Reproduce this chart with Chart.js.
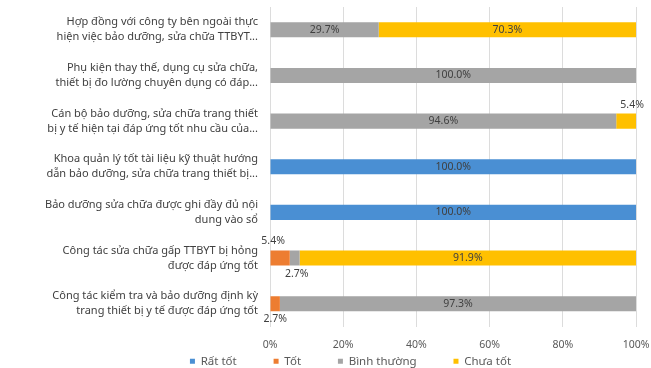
<!DOCTYPE html>
<html><head><meta charset="utf-8">
<script src="https://cdn.jsdelivr.net/npm/chart.js@4/dist/chart.umd.min.js"></script>
<style>html,body{margin:0;padding:0;background:#fff}#w{width:651px;height:368px}</style>
</head><body><div id="w"><canvas id="c"></canvas></div>
<script>
const categories = [
  ["Hợp đồng với công ty bên ngoài thực", "hiện việc bảo dưỡng, sửa chữa TTBYT..."],
  ["Phụ kiện thay thế, dụng cụ sửa chữa,", "thiết bị đo lường chuyên dụng có đáp..."],
  ["Cán bộ bảo dưỡng, sửa chữa trang thiết", "bị y tế hiện tại đáp ứng tốt nhu cầu của..."],
  ["Khoa quản lý tốt tài liệu kỹ thuật hướng", "dẫn bảo dưỡng, sửa chữa trang thiết bị..."],
  ["Bảo dưỡng sửa chữa được ghi đầy đủ nội", "dung vào sổ"],
  ["Công tác sửa chữa gấp TTBYT bị hỏng", "được đáp ứng tốt"],
  ["Công tác kiểm tra và bảo dưỡng định kỳ", "trang thiết bị y tế được đáp ứng tốt"]
];
const seriesNames = ["Rất tốt", "Tốt", "Bình thường", "Chưa tốt"];
const ratTot     = [0, 0, 0, 100, 100, 0, 0];
const tot        = [0, 0, 0, 0, 0, 5.4, 2.7];
const binhThuong = [29.7, 100, 94.6, 0, 0, 2.7, 97.3];
const chuaTot    = [70.3, 0, 5.4, 0, 0, 91.9, 0];
const xTicks = [0, 20, 40, 60, 80, 100];

const colors = ["#4A8FD3", "#ED7D31", "#A5A5A5", "#FFC000"];
const FONT = '"Noto Sans", sans-serif';
// small labels drawn outside the bar: [side, dx]
const outside = {"1-5": ["above", -7], "2-5": ["below", 2], "1-6": ["below", 0], "3-2": ["above", 6]};

const labelPlugin = {
  id: 'lbl',
  afterLayout(chart) {
    // let the long category labels extend to the canvas edge (no clipping)
    const y = chart.scales.y;
    y.left = 0; y.width = y.right;
  },
  afterDatasetsDraw(chart) {
    const ctx = chart.ctx;
    ctx.save();
    ctx.font = '10.5px ' + FONT;
    ctx.fillStyle = '#404040';
    ctx.textAlign = 'center';
    ctx.textBaseline = 'middle';
    chart.data.datasets.forEach((ds, di) => {
      const meta = chart.getDatasetMeta(di);
      meta.data.forEach((bar, i) => {
        const v = ds.data[i];
        if (!v) return;
        const txt = v.toFixed(1) + '%';
        const x0 = Math.min(bar.x, bar.base), x1 = Math.max(bar.x, bar.base);
        let cx = (x0 + x1) / 2, cy = bar.y;
        const pos = outside[di + '-' + i];
        if (pos) {
          cx += pos[1];
          cy = pos[0] === 'above' ? bar.y - bar.height / 2 - 9 : bar.y + bar.height / 2 + 8;
        }
        ctx.fillText(txt, cx, cy);
      });
    });
    ctx.restore();
  }
};

const PAD = '           ';

new Chart(document.getElementById('c'), {
  type: 'bar',
  data: {
    labels: categories,
    datasets: [ratTot, tot, binhThuong, chuaTot].map((d, k) => ({
      label: seriesNames[k], data: d, backgroundColor: colors[k],
      categoryPercentage: 1, barPercentage: 0.33
    }))
  },
  options: {
    indexAxis: 'y',
    responsive: true, maintainAspectRatio: false, animation: false,
    layout: {padding: {top: 7, right: 15, bottom: -9, left: 65}},
    plugins: {
      legend: {
        position: 'bottom',
        labels: {
          boxWidth: 5, boxHeight: 5, padding: 4, color: '#595959',
          font: {family: FONT, size: 11.5},
          generateLabels: (chart) => Chart.defaults.plugins.legend.labels.generateLabels(chart)
            .map((l, k, a) => Object.assign(l, {text: l.text + (k < a.length - 1 ? PAD : '')}))
        }
      },
      tooltip: {enabled: false}
    },
    scales: {
      x: {
        stacked: true, min: 0, max: 100,
        afterBuildTicks: s => { s.ticks = xTicks.map(v => ({value: v})); },
        afterFit: s => { s.paddingLeft = 0; s.paddingRight = 0; s.height = 25; },
        ticks: {callback: v => v + '%', color: '#595959', font: {family: FONT, size: 10.5}, padding: 12, maxRotation: 0},
        grid: {color: '#DCDCDC', drawTicks: false},
        border: {display: false}
      },
      y: {
        stacked: true,
        afterFit: s => { s.width = 205; s.paddingTop = 0; s.paddingBottom = 0; },
        ticks: {color: '#404040', padding: 12, font: {family: FONT, size: 11, lineHeight: 1.36}},
        grid: {display: false, drawTicks: false},
        border: {display: false}
      }
    }
  },
  plugins: [labelPlugin]
});
</script></body></html>
